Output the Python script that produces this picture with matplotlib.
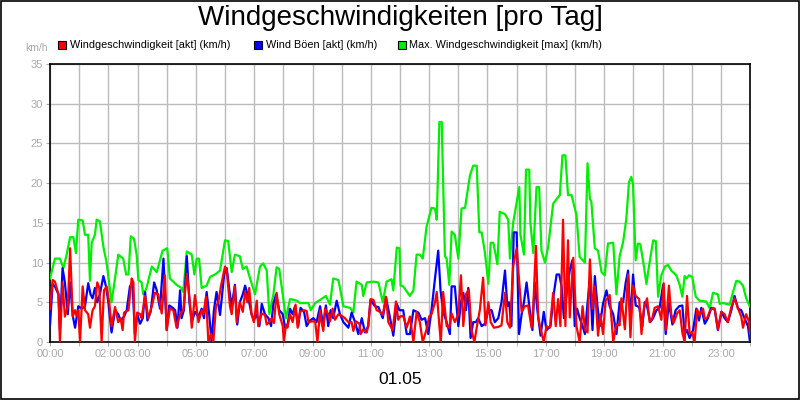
import matplotlib
matplotlib.use("Agg")
import matplotlib.pyplot as plt
from matplotlib.patches import Rectangle

plt.rcParams["font.family"] = "Liberation Sans"

title = "Windgeschwindigkeiten [pro Tag]"
date_label = "01.05"
unit_label = "km/h"
series_names = ["Windgeschwindigkeit [akt] (km/h)", "Wind Böen [akt] (km/h)",
                "Max. Windgeschwindigkeit [max] (km/h)"]
series_colors = ["#ff0000", "#0000ff", "#00ee00"]
tick_hours = [0, 2, 3, 5, 7, 9, 11, 13, 15, 17, 19, 21, 23]
tick_labels = ["00:00", "02:00", "03:00", "05:00", "07:00", "09:00", "11:00",
               "13:00", "15:00", "17:00", "19:00", "21:00", "23:00"]

green_t = [0,.17,.34,.46,.57,.69,.80,.89,.97,1.12,1.20,1.31,1.37,1.43,1.54,1.60,1.71,1.83,1.94,2.11,2.23,2.34,2.51,2.61,2.69,2.77,2.88,2.97,3.03,3.14,3.20,3.31,3.49,3.66,3.86,4.02,4.11,4.34,4.51,4.57,4.69,4.86,4.95,5.03,5.11,5.20,5.37,5.49,5.66,5.83,6.00,6.11,6.23,6.34,6.51,6.61,6.74,6.86,7.03,7.20,7.31,7.43,7.52,7.66,7.77,7.86,7.98,8.09,8.23,8.37,8.46,8.57,8.86,8.94,9.09,9.26,9.46,9.60,9.71,9.89,10.06,10.29,10.40,10.51,10.69,10.74,10.86,11.09,11.26,11.41,11.54,11.71,11.77,11.89,11.98,
           12.02,12.11,12.34,12.46,12.57,12.68,12.78,12.91,13.08,13.20,13.26,13.35,13.43,13.54,13.60,13.69,13.77,13.88,14.00,14.11,14.23,14.40,14.51,14.63,14.72,14.80,14.91,15.03,15.11,15.20,15.34,15.42,15.60,15.71,15.77,15.88,16.09,16.13,16.25,16.32,16.43,16.47,16.57,16.68,16.77,16.85,16.97,17.08,17.25,17.37,17.48,17.57,17.67,17.76,17.88,18.05,18.16,18.34,18.43,18.51,18.56,18.68,18.79,18.91,19.02,19.13,19.31,19.42,19.53,19.65,19.76,19.85,19.93,19.99,20.08,20.16,20.24,20.36,20.45,20.54,20.68,20.77,20.85,20.96,21.08,21.19,21.30,21.47,21.59,21.68,21.76,21.82,21.91,22.02,22.14,22.27,22.50,22.62,22.73,22.90,22.96,23.07,23.30,23.42,23.53,23.64,23.76,23.87,23.99]
green_v = [8,10.5,10.5,9.3,11,13.2,13.2,11.2,15.4,15.3,13.5,13.5,7.7,12.5,13.5,15.4,15.2,12,10,5,8,11,10.5,8.5,8.5,13.3,13,11,7.8,7.5,6,6.8,9.5,8.8,11.5,11.8,8,7.2,6.8,6.3,11.4,11,8.5,10.5,10.5,6.8,7.1,8.2,8.5,9,12.8,12.7,8.8,11,10.8,9.2,9.5,8,6,9.5,9.9,9,3.5,6,9.4,9.2,6,3,5.4,5.3,5.2,4.9,4.9,4,4.9,5.3,5.8,4.7,8,7.8,4.5,4.3,3.7,7.6,7.2,5.8,7.5,7.6,7.5,5,7.6,7.9,6.5,11.9,11.8,
           7.1,7,5.8,6.5,11,11,10.5,14.5,16.9,16.8,15.4,27.7,27.7,10.8,10.5,7.2,13.9,13.5,10.5,16.8,16.9,21,22.2,22.2,13.8,13.8,11.3,7.3,12.5,12.5,9.8,16.4,16.1,15.4,10.5,15,19.5,13.5,11,21.7,21.7,15,11.2,19.5,19.5,11.5,10,12,17.4,18,18.5,23.5,23.5,18.5,18.5,16,10.7,10,22.5,18,17.7,11.8,11.5,8.8,8.4,12.4,12.5,6,10.8,12.6,15.5,20.1,20.8,19.8,10.3,12.4,12.3,9.6,7.3,9.6,12.8,12.7,5.7,8.4,9.5,9.7,9,8.4,7.2,5.7,8.3,8,8.4,8.2,5.7,5.2,5.1,4.2,6.2,6,4.8,4.9,4.7,6.3,7.7,7.6,7.1,5.5,4.5]

red_t = [0,.09,.17,.29,.34,.43,.51,.61,.69,.78,.86,.91,.97,1.03,1.12,1.2,1.31,1.37,1.46,1.54,1.62,1.69,1.77,1.85,1.94,2.03,2.11,2.23,2.34,2.42,2.49,2.54,2.69,2.8,2.86,2.91,2.99,3.09,3.14,3.26,3.37,3.49,3.6,3.71,3.83,3.94,4.0,4.11,4.23,4.34,4.46,4.57,4.69,4.8,4.86,4.97,5.09,5.2,5.26,5.35,5.43,5.52,5.6,5.69,5.77,5.86,6.0,6.06,6.17,6.23,6.34,6.4,6.51,6.61,6.69,6.77,6.83,6.91,6.99,7.09,7.14,7.26,7.37,7.43,7.52,7.6,7.68,7.77,7.86,7.98,8.02,8.09,8.14,8.23,8.32,8.42,8.49,8.57,8.71,8.8,8.86,8.97,9.09,9.17,9.26,9.31,9.37,9.43,9.54,9.6,9.69,9.77,9.89,10.0,10.11,10.23,10.34,10.4,10.49,10.61,10.65,10.74,10.86,10.91,10.99,11.09,11.2,11.31,11.41,11.52,11.6,11.75,11.86,11.94,
         12.0,12.11,12.23,12.34,12.46,12.57,12.68,12.78,12.91,13.0,13.08,13.2,13.26,13.35,13.4,13.48,13.6,13.69,13.77,13.88,14.0,14.09,14.17,14.26,14.36,14.45,14.55,14.63,14.74,14.85,14.93,15.03,15.11,15.22,15.37,15.48,15.6,15.68,15.77,15.88,16.0,16.11,16.17,16.28,16.39,16.51,16.57,16.66,16.74,16.85,16.93,17.02,17.14,17.25,17.34,17.42,17.5,17.59,17.67,17.76,17.82,17.94,18.05,18.16,18.26,18.34,18.43,18.51,18.6,18.68,18.79,18.87,18.96,19.05,19.19,19.31,19.42,19.53,19.59,19.71,19.82,19.9,19.99,20.08,20.2,20.28,20.36,20.47,20.56,20.65,20.73,20.85,20.96,21.04,21.11,21.22,21.3,21.38,21.5,21.59,21.68,21.76,21.84,21.93,22.02,22.1,22.19,22.27,22.39,22.45,22.53,22.62,22.73,22.79,22.9,23.02,23.13,23.24,23.36,23.47,23.59,23.7,23.76,23.87,23.96,24.0]
red_v = [4.2,7.8,7.6,6,0,7.5,3.2,4.5,11.8,3.2,4,3.3,4,0,7,4,3.5,1.8,4,4.5,7.5,6.8,0,6.5,7,5,2,4.4,2.5,3,1.5,3.7,4,8,7.5,0,3.7,3.5,3,5.8,3,4.5,6.2,6,3.6,8.4,1.5,4.2,4,1.8,3.5,4,8.6,5,1.8,5.9,2.5,4,3.5,5.7,0,1,0,4.5,5,7,9.5,9,4.5,3.5,7,2.5,5,3.8,6.3,5,6.8,3.5,2.5,5.2,2,3.6,3.4,2.2,2.5,3,2.4,6.2,3.5,2,0,2.2,1.8,3.5,2.5,4.7,1.8,3.8,4,3.9,2.5,2.6,2.6,0,4,2.5,1.4,4.2,3.5,2.6,4.2,2.8,3.5,3.3,3,2.5,2.5,1.4,2.6,2.3,1,1.6,1.2,2,5.4,5.3,4,3.8,3.4,5.7,2.5,1.5,5.1,2.8,
         3.2,3.3,1.8,3.2,0,3.8,2.5,0,1.6,3.2,3.5,5,6.3,2,0,6.3,2,1.8,3.6,2.5,3.5,8.4,2,6,6.6,1.5,0,1.8,4.1,8.1,2.1,5,2.5,1.8,1.9,2.1,6.2,2.5,1.8,9.5,11.8,6.5,3.8,4.5,4.6,1.8,4.6,12.1,3,1.2,0,2,1.8,6.2,2,5.4,2,15.4,2,12.8,3.1,10.6,2,0,4.5,1.6,1.2,10.4,4.2,7,0.8,3.5,1,5.2,5.9,0,2.2,2.1,5.5,1.6,8.5,0.6,7.1,5.8,5.4,1,4.2,5.5,2.5,3,4.3,4.5,2.8,7.4,1.5,7.1,3.5,2.4,3.6,4,1.2,0,5.8,1.1,1.2,0,4.1,3.3,4.2,2.9,3,3.9,4.3,4.2,1.6,3.8,3.5,2.5,4.4,5.5,4.2,3.2,1.8,3.5,2.6,1]

blue_t = [0,.09,.17,.29,.34,.43,.51,.61,.69,.78,.86,.97,1.09,1.2,1.31,1.39,1.46,1.54,1.62,1.71,1.83,1.92,2.0,2.11,2.23,2.34,2.42,2.54,2.63,2.74,2.83,2.91,2.99,3.09,3.18,3.26,3.34,3.45,3.57,3.66,3.77,3.89,4.0,4.09,4.21,4.29,4.37,4.46,4.51,4.59,4.69,4.78,4.86,4.97,5.09,5.2,5.28,5.37,5.46,5.54,5.62,5.71,5.83,5.97,6.06,6.15,6.23,6.34,6.42,6.51,6.61,6.69,6.77,6.83,6.91,6.99,7.09,7.18,7.26,7.37,7.49,7.58,7.66,7.75,7.86,7.98,8.06,8.14,8.23,8.32,8.4,8.51,8.59,8.71,8.8,8.91,9.03,9.14,9.26,9.37,9.46,9.54,9.62,9.71,9.83,9.94,10.06,10.23,10.34,10.46,10.57,10.69,10.8,10.91,10.99,11.14,11.26,11.41,11.52,11.66,11.77,11.89,11.98,
          12.02,12.11,12.23,12.34,12.46,12.63,12.74,12.86,12.97,13.08,13.2,13.31,13.39,13.48,13.6,13.71,13.77,13.88,14.0,14.09,14.17,14.26,14.34,14.42,14.51,14.6,14.68,14.8,14.91,15.03,15.14,15.25,15.37,15.48,15.6,15.68,15.74,15.82,15.9,16.0,16.08,16.17,16.25,16.34,16.45,16.54,16.62,16.71,16.82,16.93,17.02,17.16,17.27,17.37,17.46,17.54,17.62,17.71,17.82,17.91,17.99,18.07,18.16,18.26,18.34,18.42,18.51,18.6,18.68,18.77,18.85,18.96,19.08,19.19,19.31,19.42,19.53,19.65,19.74,19.82,19.9,19.99,20.08,20.2,20.31,20.39,20.47,20.58,20.68,20.79,20.9,21.02,21.11,21.22,21.34,21.45,21.57,21.68,21.76,21.84,21.93,22.05,22.16,22.25,22.33,22.45,22.56,22.67,22.79,22.9,23.02,23.13,23.24,23.36,23.47,23.59,23.7,23.81,23.93,24.0]
blue_v = [2.2,7.3,7,6,1.5,9.3,7.5,3.5,7.5,3.3,1.8,4.5,4.2,4.5,7.4,6,5.5,6.8,5,6,8.3,7,5,1.2,4,3.5,2.7,3.2,4,7,7.5,1,3.5,2.3,3,6.3,2.7,3.8,7.5,6.5,4.2,10.5,1.5,4.6,4.3,4,1.8,6.5,3,4,10.8,5,2.5,3.8,3.2,4.2,3,6.3,3.4,0,4,6.3,3.4,8.5,9.3,6.5,4.5,7.2,2.2,5,6,7.1,6,5,3.5,2.8,3.5,2,4.8,3.5,3,2,4.8,6,4,3.5,1.8,2,4.2,3.5,4.5,2,4.3,3.8,2,2.7,3,2.5,4.5,2,4.6,2,4,3,5.2,3.5,2.5,1.8,3.7,2.5,1,3,1.2,2,5.3,4.5,4.4,3,5.6,3,0.8,4.8,4,
          4,4,1,1,4,3.7,2.8,3,1,4,8,11.5,6.5,3.8,2.5,1,7,7,2,5,6.2,4,6.8,0.5,2.5,2.5,3,2,2.3,4,4,2.5,3,5,9,4.5,5,2,13.8,13.8,1,3.5,5,7.5,4,1.5,7.5,4,0.8,3.8,1.5,2,6,8.5,8.5,7,3,6,9,10.3,2,4.2,3,2,1,4.5,8,1.5,8.3,4.5,2,4.8,6.5,4.5,3.5,1,5,5,7.5,9,2.5,8.5,4.6,4.4,2,5,4.5,2.5,3,4,4.3,7.2,1,5,2.2,4,4.5,4.6,1,1.5,0.5,1.5,4.2,2.7,4.3,2.3,3,4.3,4.1,1.5,3.8,3,2.5,4,5.8,4.2,4,3,2,0]

fig = plt.figure(figsize=(8, 4), dpi=100)
fig.patch.set_facecolor("white")
fig.add_artist(Rectangle((0.0008, 0.0015), 0.9984, 0.997, transform=fig.transFigure,
                         fill=False, edgecolor="black", linewidth=1.2))
ax = fig.add_axes([0.0625, 0.145, 0.875, 0.695])
ax.plot(green_t, green_v, color=series_colors[2], lw=1.6, zorder=3)
ax.plot(blue_t, blue_v, color=series_colors[1], lw=1.6, zorder=4)
ax.plot(red_t, red_v, color=series_colors[0], lw=1.6, zorder=5)
ax.set_xlim(0, 24)
ax.set_ylim(0, 35)
ax.set_xticks(range(0, 25), minor=True)
ax.set_xticks(tick_hours)
ax.set_xticklabels(tick_labels)
ax.set_yticks(range(0, 36, 5))
ax.grid(True, which="both", axis="x", color="#bbbbbb", lw=1)
ax.grid(True, which="major", axis="y", color="#bbbbbb", lw=1)
ax.set_axisbelow(True)
ax.tick_params(which="both", colors="#aaaaaa", labelsize=8, length=3, labelcolor="#aaaaaa", pad=2)
for s in ax.spines.values():
    s.set_color("black")
    s.set_linewidth(1.2)
fig.text(0.5, 0.955, title, ha="center", va="center", fontsize=20)
fig.text(0.5, 0.05, date_label, ha="center", va="center", fontsize=12.5)
fig.text(0.046, 0.88, unit_label, ha="center", va="center", fontsize=7.5, color="#aaaaaa")
leg_x = [0.073, 0.318, 0.497]
for x, name, c in zip(leg_x, series_names, series_colors):
    fig.add_artist(Rectangle((x, 0.877), 0.01, 0.02, transform=fig.transFigure,
                             facecolor=c, edgecolor="black", lw=0.8))
    fig.text(x + 0.014, 0.887, name, ha="left", va="center", fontsize=7.8)
fig.savefig("out.png", dpi=100)
